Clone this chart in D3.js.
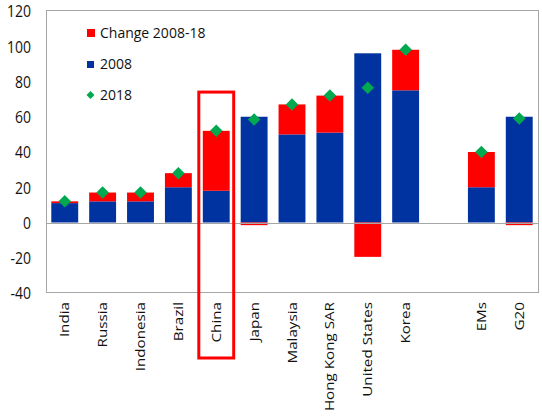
<!DOCTYPE html>
<html>
<head>
<meta charset="utf-8">
<script src="https://cdn.jsdelivr.net/npm/d3@7"></script>
<style>
  body { margin: 0; background: #fff; }
  text { font-family: "Open Sans", sans-serif; fill: #111; }
</style>
</head>
<body>
<svg id="chart" width="542" height="417"></svg>
<script>
// data
var categories = ['India', 'Russia', 'Indonesia', 'Brazil', 'China', 'Japan',
  'Malaysia', 'Hong Kong SAR', 'United States', 'Korea', 'EMs', 'G20'];
var values2008 = [11, 12, 12, 20, 18, 60, 50, 51, 96, 75, 20, 60];
var change0818 = [1, 5, 5, 8, 34, -1.5, 17, 21, -19.5, 23, 20, -1.5];
var values2018 = [12, 17, 17, 28, 52, 58.5, 67, 72, 76.5, 98, 40, 59];
var yTicks = [-40, -20, 0, 20, 40, 60, 80, 100, 120];
var gapAfter = 'Korea';
var highlight = 'China';

var colors = { change: '#ff0000', base: '#0033a0', marker: '#00a94f' };

var svg = d3.select('#chart');
var plot = { left: 46, right: 538, top: 11, bottom: 293 };

// band domain with one empty slot between the countries and the aggregates
var slots = [];
categories.forEach(function(c){
  slots.push(c);
  if (c === gapAfter) slots.push('__gap');
});

var x = d3.scaleBand()
  .domain(slots)
  .range([plot.left, plot.right])
  .paddingInner(0.29)
  .paddingOuter(0.14);

var y = d3.scaleLinear()
  .domain([-40, 120])
  .range([plot.bottom, plot.top]);

// plot frame
svg.append('rect')
  .attr('x', plot.left + 0.5)
  .attr('y', plot.top - 0.5)
  .attr('width', plot.right - plot.left)
  .attr('height', plot.bottom - plot.top)
  .attr('fill', 'none')
  .attr('stroke', '#a6a6a6')
  .attr('stroke-width', 1);

// y axis labels (source image is a bit stretched vertically)
var yAxis = d3.axisLeft(y).tickValues(yTicks).tickSize(0).tickPadding(0)
  .tickFormat(function(d){ return d < 0 ? '-' + Math.abs(d) : d; });
var gy = svg.append('g')
  .attr('transform', 'translate(31,0)')
  .call(yAxis);
gy.select('.domain').remove();
gy.selectAll('text')
  .style('font-family', '"Open Sans", sans-serif')
  .style('font-size', '14px')
  .attr('fill', '#111')
  .attr('dy', null)
  .attr('transform', function(d){ return 'translate(0,' + y(d) + ') scale(1,1.15)'; })
  .attr('y', 0)
  .attr('dominant-baseline', 'central');
gy.selectAll('.tick').attr('transform', null);

var rows = categories.map(function(c, i){
  return { name: c, base: values2008[i], change: change0818[i], total: values2018[i] };
});

// 2008 bars
svg.append('g').selectAll('rect')
  .data(rows).enter().append('rect')
  .attr('x', function(d){ return x(d.name); })
  .attr('width', x.bandwidth())
  .attr('y', function(d){ return y(d.base); })
  .attr('height', function(d){ return y(0) - y(d.base); })
  .attr('fill', colors.base);

// change bars: positives stack on top, negatives go below zero
svg.append('g').selectAll('rect')
  .data(rows).enter().append('rect')
  .attr('x', function(d){ return x(d.name); })
  .attr('width', x.bandwidth())
  .attr('y', function(d){ return d.change >= 0 ? y(d.base + d.change) : y(0); })
  .attr('height', function(d){
    return d.change >= 0 ? y(d.base) - y(d.base + d.change) : y(d.change) - y(0);
  })
  .attr('fill', colors.change);

// zero line
svg.append('line')
  .attr('x1', plot.left).attr('x2', plot.right)
  .attr('y1', Math.round(y(0)) + 0.5).attr('y2', Math.round(y(0)) + 0.5)
  .attr('stroke', '#a6a6a6')
  .attr('stroke-width', 1);

// 2018 markers
var diamond = d3.symbol().type(d3.symbolDiamond2).size(100);
svg.append('g').selectAll('path')
  .data(rows).enter().append('path')
  .attr('d', diamond)
  .attr('transform', function(d){
    return 'translate(' + (x(d.name) + x.bandwidth() / 2) + ',' + y(d.total) + ')';
  })
  .attr('fill', colors.marker);

// category labels
svg.append('g').selectAll('text')
  .data(categories).enter().append('text')
  .attr('transform', function(d){
    return 'translate(' + (x(d) + x.bandwidth() / 2) + ',302) rotate(-90) scale(1.17,1)';
  })
  .attr('text-anchor', 'end')
  .attr('dy', '0.35em')
  .style('font-size', '13px')
  .text(function(d){ return d; });

// highlight box around China
svg.append('rect')
  .attr('x', x(highlight) - 4)
  .attr('y', y(74))
  .attr('width', x.bandwidth() + 8)
  .attr('height', 358 - y(74))
  .attr('fill', 'none')
  .attr('stroke', colors.change)
  .attr('stroke-width', 3);

// legend
var legend = svg.append('g');
legend.append('rect').attr('x', 87).attr('y', 29).attr('width', 8).attr('height', 8)
  .attr('fill', colors.change);
legend.append('rect').attr('x', 87).attr('y', 61).attr('width', 7).attr('height', 7)
  .attr('fill', colors.base);
legend.append('path').attr('d', d3.symbol().type(d3.symbolDiamond2).size(40))
  .attr('transform', 'translate(90.5,95)')
  .attr('fill', colors.marker);
var legendText = ['Change 2008-18', '2008', '2018'];
var legendY = [33, 64, 95];
legend.selectAll('text')
  .data(legendText).enter().append('text')
  .attr('x', 100)
  .attr('y', function(d, i){ return legendY[i]; })
  .attr('dy', '0.35em')
  .style('font-size', '14px')
  .text(function(d){ return d; });
</script>
</body>
</html>
